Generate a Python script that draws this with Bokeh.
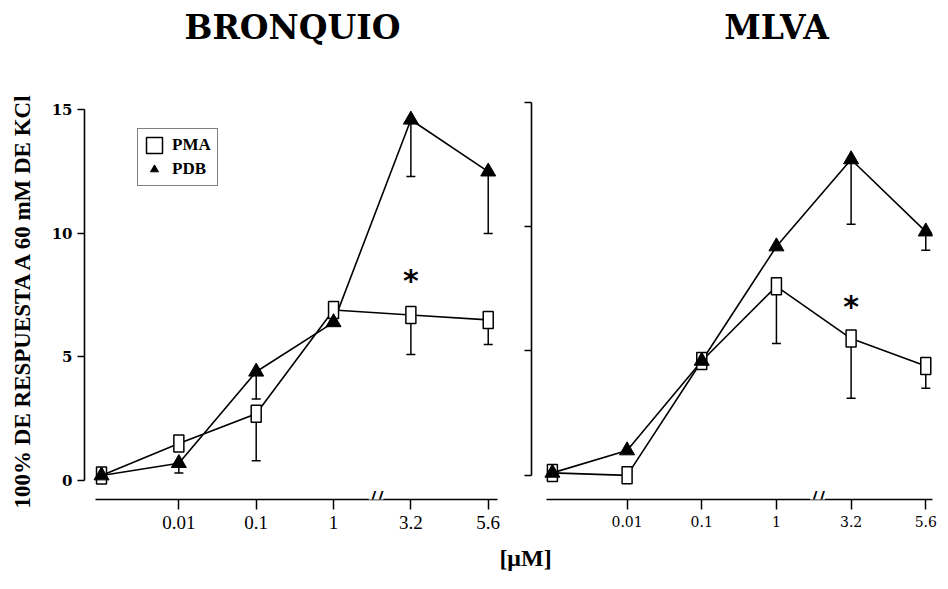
from bokeh.plotting import figure
from bokeh.models import FixedTicker, Legend, LegendItem, Label, Range1d
from bokeh.layouts import row, column
from bokeh.embed import file_html
from bokeh.resources import INLINE
from bokeh.core.properties import value

# ---- data ----
categories = ["control", "0.01", "0.1", "1", "3.2", "5.6"]
tick_labels = ["0.01", "0.1", "1", "3.2", "5.6"]
x_pos = list(range(len(categories)))
tick_pos = x_pos[1:]
break_pos = 3.55  # axis break between "1" and "3.2"

bronquio_pma = [0.2, 1.5, 2.7, 6.9, 6.7, 6.5]
bronquio_pma_err = [0, 0, 1.9, 0, 1.6, 1.0]
bronquio_pdb = [0.2, 0.7, 4.4, 6.4, 14.6, 12.5]
bronquio_pdb_err = [0, 0.4, 1.1, 0, 2.3, 2.5]
bronquio_star = [(4, 8.1)]

mlva_pma = [0.1, 0.0, 4.6, 7.6, 5.5, 4.4]
mlva_pma_err = [0, 0, 0, 2.3, 2.4, 0.9]
mlva_pdb = [0.1, 1.0, 4.6, 9.2, 12.7, 9.8]
mlva_pdb_err = [0, 0, 0, 0, 2.6, 0.75]
mlva_star = [(4, 6.8)]

y_ticks = [0, 5, 10, 15]
panel_titles = ["BRONQUIO", "MLVA"]
x_title = "[\u03bcM]"
y_title = "100% DE RESPUESTA A 60 mM DE KCl"

SERIF = "Liberation Serif"
W = 948


def strip(height):
    s = figure(width=W, height=height, output_backend="svg", toolbar_location=None,
               min_border=0, x_range=Range1d(0, W), y_range=Range1d(height, 0),
               x_axis_type=None, y_axis_type=None)
    s.grid.visible = False
    s.outline_line_color = None
    return s


def make_panel(pma, pma_err, pdb, pdb_err, stars, width, xr, yr,
               border_left, border_right, tick_font, tick_size, show_y_labels, legend):
    p = figure(width=width, height=450, x_range=Range1d(*xr), y_range=Range1d(*yr),
               output_backend="svg", toolbar_location=None,
               min_border_left=border_left, min_border_right=border_right,
               min_border_top=10, min_border_bottom=41)
    p.grid.visible = False
    p.outline_line_color = None
    p.background_fill_color = "white"

    # lines
    p.line(x_pos, pma, line_color="black", line_width=1.6)
    p.line(x_pos, pdb, line_color="black", line_width=1.6)

    # error bars (downward)
    for vals, errs in ((pma, pma_err), (pdb, pdb_err)):
        xs = [x for x, e in zip(x_pos, errs) if e > 0]
        y0 = [v for v, e in zip(vals, errs) if e > 0]
        y1 = [v - e for v, e in zip(vals, errs) if e > 0]
        if xs:
            p.segment(x0=xs, y0=y0, x1=xs, y1=y1, line_color="black", line_width=1.5)
            p.scatter(x=xs, y=y1, marker="dash", size=9, line_color="black", line_width=1.5)

    sq = p.rect(x_pos, pma, width=10, height=17, width_units="screen", height_units="screen",
                fill_color="white", line_color="black", line_width=1.5)
    tri = p.scatter(x_pos, pdb, marker="triangle", size=15, fill_color="black",
                    line_color="black")

    for sx, sy in stars:
        p.text(x=[sx], y=[sy], text=["*"], text_font=value("DejaVu Sans"),
               text_font_size="30px", text_font_style="bold", text_align="center",
               text_baseline="middle", text_color="black")

    # axes
    p.xaxis.ticker = FixedTicker(ticks=tick_pos)
    p.xaxis.major_label_overrides = {t: l for t, l in zip(tick_pos, tick_labels)}
    p.xaxis.bounds = (-0.08, xr[1])
    p.xaxis.minor_tick_line_color = None
    p.xaxis.major_tick_in = 0
    p.xaxis.major_tick_out = 10
    p.xaxis.axis_line_width = 1.6
    p.xaxis.major_tick_line_width = 1.5
    p.xaxis.major_label_standoff = 6
    p.xaxis.major_label_text_font = tick_font
    p.xaxis.major_label_text_font_size = tick_size
    p.xaxis.major_label_text_color = "black"

    p.yaxis.bounds = (0, 15)
    p.yaxis.axis_line_width = 1.6
    if show_y_labels:
        p.yaxis.ticker = FixedTicker(ticks=y_ticks)
        p.yaxis.minor_tick_line_color = None
        p.yaxis.major_tick_in = 0
        p.yaxis.major_tick_out = 7
        p.yaxis.major_tick_line_width = 1.5
        p.yaxis.major_label_text_font = "DejaVu Serif"
        p.yaxis.major_label_text_font_style = "bold"
        p.yaxis.major_label_text_font_size = "15px"
        p.yaxis.major_label_standoff = 5
        p.yaxis.major_label_text_color = "black"
        p.yaxis.axis_label = y_title
        p.yaxis.axis_label_text_font = SERIF
        p.yaxis.axis_label_text_font_style = "bold"
        p.yaxis.axis_label_text_font_size = "23px"
        p.yaxis.axis_label_standoff = 14
        p.yaxis.axis_label_text_color = "black"
    else:
        # ticks only, no labels
        p.yaxis.ticker = FixedTicker(ticks=[], minor_ticks=y_ticks)
        p.yaxis.minor_tick_in = 0
        p.yaxis.minor_tick_out = 7
        p.yaxis.minor_tick_line_width = 1.5
        p.yaxis.minor_tick_line_color = "black"

    # axis break marks
    p.add_layout(Label(x=break_pos, y=yr[0], text="//", text_font="DejaVu Sans",
                       text_font_size="22px", text_align="center", text_baseline="middle",
                       background_fill_color="white", text_color="black", level="overlay"))

    if legend:
        lg = Legend(items=[LegendItem(label="PMA", renderers=[sq]),
                           LegendItem(label="PDB", renderers=[tri])],
                    location=(53, 313), border_line_color="black", border_line_width=1.5,
                    background_fill_color="white", background_fill_alpha=1.0,
                    label_text_font=SERIF, label_text_font_style="bold",
                    label_text_font_size="17px", label_text_color="black",
                    glyph_width=20, glyph_height=20,
                    spacing=4, padding=6, margin=0, label_standoff=8)
        p.add_layout(lg, "center")
    return p


# top strip with the panel titles
p0 = strip(90)
for txt, cx in zip(panel_titles, (292, 776)):
    p0.add_layout(Label(x=cx, y=27, text=txt, text_font="DejaVu Serif",
                        text_font_style="bold", text_font_size="33px",
                        text_align="center", text_baseline="middle", text_color="black"))

p1 = make_panel(bronquio_pma, bronquio_pma_err, bronquio_pdb, bronquio_pdb_err,
                bronquio_star, 515, (-0.22, 5.12), (-0.77, 15.38), 84, 18,
                SERIF, "19px", True, True)
p2 = make_panel(mlva_pma, mlva_pma_err, mlva_pdb, mlva_pdb_err,
                mlva_star, 433, (-0.28, 5.09), (-0.97, 15.07), 16, 16,
                "DejaVu Serif", "14px", False, False)

# bottom strip with the x-axis title
p3 = strip(49)
p3.add_layout(Label(x=525, y=17, text=x_title, text_font=SERIF, text_font_style="bold",
                    text_font_size="24px", text_align="center", text_baseline="middle",
                    text_color="black"))

layout = column(p0, row(p1, p2), p3)
open("out.html", "w").write(file_html(layout, INLINE))
